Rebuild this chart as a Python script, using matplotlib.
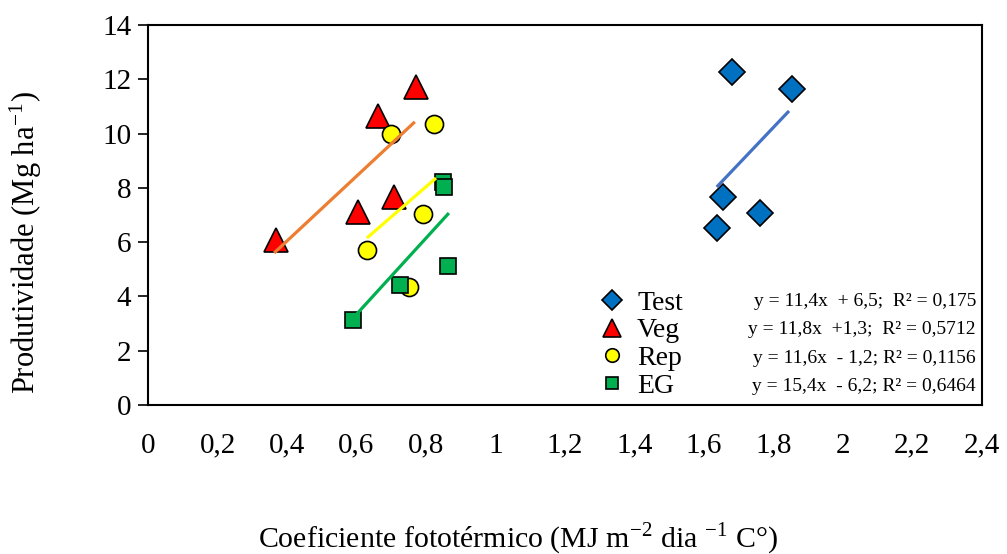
import matplotlib
matplotlib.use("Agg")
import matplotlib.pyplot as plt

plt.rcParams['font.family'] = ['Liberation Serif', 'DejaVu Serif']
plt.rcParams['mathtext.fontset'] = 'stix'

# dados
test_x = [1.681, 1.853, 1.655, 1.761, 1.637]
test_y = [12.27, 11.64, 7.66, 7.07, 6.52]
veg_x = [0.771, 0.662, 0.708, 0.604, 0.368]
veg_y = [11.72, 10.65, 7.66, 7.11, 6.08]
rep_x = [0.699, 0.823, 0.791, 0.630, 0.751]
rep_y = [9.98, 10.35, 7.04, 5.71, 4.35]
eg_x = [0.849, 0.852, 0.863, 0.725, 0.590]
eg_y = [8.22, 8.03, 5.12, 4.42, 3.13]

# linhas de tendência (extremos)
test_lx = [1.637, 1.845]
test_ly = [8.03, 10.83]
veg_lx = [0.363, 0.768]
veg_ly = [5.60, 10.43]
rep_lx = [0.630, 0.829]
rep_ly = [6.15, 8.36]
eg_lx = [0.590, 0.866]
eg_ly = [3.20, 7.07]

labels = ["Test", "Veg", "Rep", "EG"]
equacoes = ["y = 11,4x  + 6,5;  R² = 0,175",
            "y = 11,8x  +1,3;  R² = 0,5712",
            "y = 11,6x  - 1,2; R² = 0,1156",
            "y = 15,4x  - 6,2; R² = 0,6464"]

xticks = [0, 0.2, 0.4, 0.6, 0.8, 1, 1.2, 1.4, 1.6, 1.8, 2, 2.2, 2.4]
xtick_labels = ["0", "0,2", "0,4", "0,6", "0,8", "1", "1,2", "1,4", "1,6", "1,8", "2", "2,2", "2,4"]
yticks = [0, 2, 4, 6, 8, 10, 12, 14]

fig = plt.figure(figsize=(10.07, 5.54), dpi=100)
ax = fig.add_axes([0.147, 0.269, 0.828, 0.686])

h1, = ax.plot(test_x, test_y, 'D', color='#0070C0', mec='k', mew=1.2, ms=13, ls='none', zorder=3)
h2, = ax.plot(veg_x, veg_y, '^', color='#FF0000', mec='k', mew=1.2, ms=17, ls='none', zorder=3)
h3, = ax.plot(rep_x, rep_y, 'o', color='#FFFF00', mec='k', mew=1.2, ms=13, ls='none', zorder=3)
h4, = ax.plot(eg_x, eg_y, 's', color='#00B050', mec='k', mew=1.2, ms=12, ls='none', zorder=3)

ax.plot(test_lx, test_ly, color='#4472C4', lw=2.3, solid_capstyle='butt', zorder=4)
ax.plot(veg_lx, veg_ly, color='#ED7D31', lw=2.3, solid_capstyle='butt', zorder=4)
ax.plot(rep_lx, rep_ly, color='#FFFF00', lw=2.3, solid_capstyle='butt', zorder=4)
ax.plot(eg_lx, eg_ly, color='#00B050', lw=2.3, solid_capstyle='butt', zorder=4)

ax.set_xlim(0, 2.4)
ax.set_ylim(0, 14)
ax.set_xticks(xticks)
ax.set_xticklabels(xtick_labels)
ax.set_yticks(yticks)
ax.tick_params(axis='x', length=0, pad=20, labelsize=21)
ax.tick_params(axis='y', length=7, width=1.2, direction='out', pad=5, labelsize=21)
for s in ax.spines.values():
    s.set_linewidth(1.5)

fig.text(0.025, 0.563, r"Produtividade (Mg ha$^{\mathregular{-1}}$)", fontsize=22,
         rotation=90, ha='center', va='center')
fig.text(0.515, 0.028, r"Coeficiente fototérmico (MJ m$^{\mathregular{-2}}$ dia $^{\mathregular{-1}}$ C°)",
         fontsize=21.5, ha='center', va='center')

# legenda
leg = ax.legend([h1, h2, h3, h4], labels, loc='upper left', bbox_to_anchor=(0.535, 0.302),
                frameon=False, fontsize=20, handletextpad=0.25, labelspacing=0.08,
                borderpad=0, borderaxespad=0, markerscale=0.75, handlelength=1.3)

for i, eq in enumerate(equacoes):
    ax.text(0.993, 0.271 - i * 0.0737, eq, transform=ax.transAxes, fontsize=14,
            ha='right', va='center')

fig.savefig("out.png", dpi=100)
